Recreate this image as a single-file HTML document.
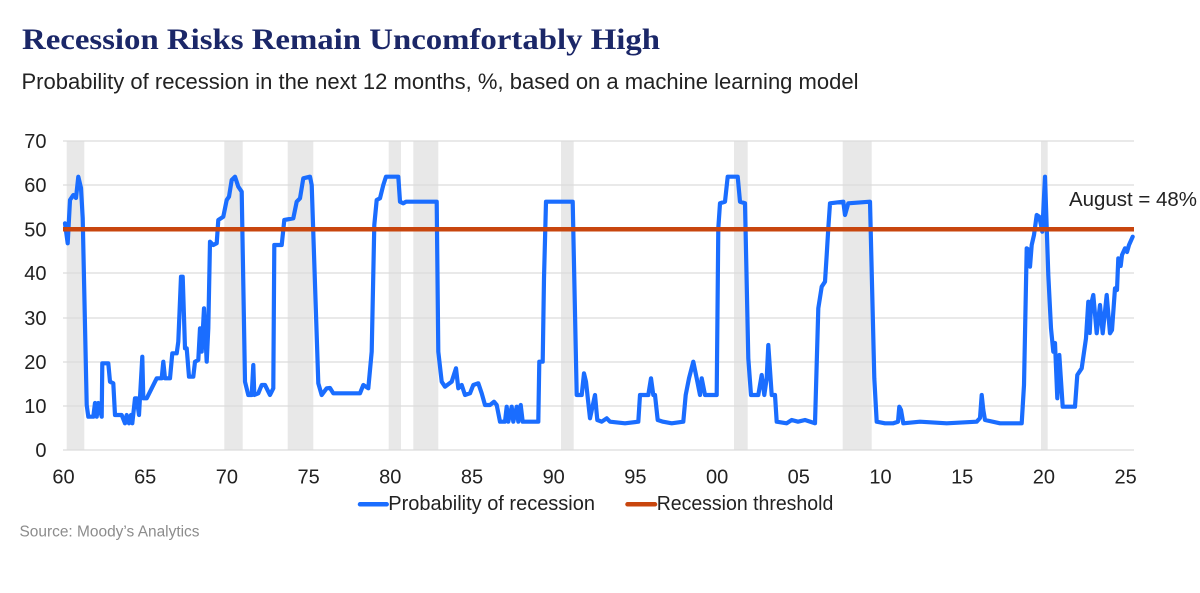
<!DOCTYPE html>
<html>
<head>
<meta charset="utf-8">
<style>
  html,body{margin:0;padding:0;background:#fff;}
  svg{display:block;}
  .sans{font-family:"Liberation Sans",Arial,sans-serif;}
  .serif{font-family:"Liberation Serif","Times New Roman",serif;}
</style>
</head>
<body>
<svg width="1200" height="593" viewBox="0 0 1200 593" xmlns="http://www.w3.org/2000/svg">
  <rect x="0" y="0" width="1200" height="593" fill="#ffffff"/>

  <!-- Title & subtitle -->
  <text class="serif" x="22" y="49" font-size="30" font-weight="bold" fill="#1b2768" textLength="638" lengthAdjust="spacingAndGlyphs">Recession Risks Remain Uncomfortably High</text>
  <text class="sans" x="21.5" y="89" font-size="22" fill="#222222" textLength="837" lengthAdjust="spacingAndGlyphs">Probability of recession in the next 12 months, %, based on a machine learning model</text>

  <!-- Recession bands -->
  <g fill="#e8e8e8">
    <rect x="66.7" y="141" width="17.6" height="309"/>
    <rect x="224.3" y="141" width="18.4" height="309"/>
    <rect x="287.7" y="141" width="25.6" height="309"/>
    <rect x="388.7" y="141" width="12.3" height="309"/>
    <rect x="413.3" y="141" width="25" height="309"/>
    <rect x="561" y="141" width="12.7" height="309"/>
    <rect x="734" y="141" width="13.7" height="309"/>
    <rect x="842.7" y="141" width="29" height="309"/>
    <rect x="1041" y="141" width="6.7" height="309"/>
  </g>

  <!-- Gridlines -->
  <g stroke="#dcdcdc" stroke-width="1.2">
    <line x1="63" y1="141" x2="1134" y2="141"/>
    <line x1="63" y1="185" x2="1134" y2="185"/>
    <line x1="63" y1="229.3" x2="1134" y2="229.3"/>
    <line x1="63" y1="273" x2="1134" y2="273"/>
    <line x1="63" y1="318" x2="1134" y2="318"/>
    <line x1="63" y1="362" x2="1134" y2="362"/>
    <line x1="63" y1="406" x2="1134" y2="406"/>
    <line x1="63" y1="450" x2="1134" y2="450"/>
  </g>

  <!-- Y labels -->
  <g class="sans" font-size="20" fill="#222222" text-anchor="end">
    <text x="46.5" y="148">70</text>
    <text x="46.5" y="192">60</text>
    <text x="46.5" y="236.3">50</text>
    <text x="46.5" y="280">40</text>
    <text x="46.5" y="325">30</text>
    <text x="46.5" y="369">20</text>
    <text x="46.5" y="413">10</text>
    <text x="46.5" y="457">0</text>
  </g>

  <!-- X labels -->
  <g class="sans" font-size="20" fill="#222222" text-anchor="middle">
    <text x="63.5" y="483.5">60</text>
    <text x="145.2" y="483.5">65</text>
    <text x="226.9" y="483.5">70</text>
    <text x="308.6" y="483.5">75</text>
    <text x="390.3" y="483.5">80</text>
    <text x="472" y="483.5">85</text>
    <text x="553.7" y="483.5">90</text>
    <text x="635.4" y="483.5">95</text>
    <text x="717.1" y="483.5">00</text>
    <text x="798.8" y="483.5">05</text>
    <text x="880.5" y="483.5">10</text>
    <text x="962.2" y="483.5">15</text>
    <text x="1043.9" y="483.5">20</text>
    <text x="1125.6" y="483.5">25</text>
  </g>

  <!-- Probability series -->
  <polyline fill="none" stroke="#1a6dff" stroke-width="4.2" stroke-linejoin="round" stroke-linecap="round" points="
65,223.3 67.7,243.3 70,200 73.3,195 76,198 78.3,176.7 81,188 82.7,218 86.7,405 88.3,416.7 93.3,416.7 95,403 96.7,416.7 98.3,403 101.7,416.7 102.3,363.3 108.3,363.3 110,381.7 113.3,383.3 115,415 121.7,415 125,423.3 126.7,415 129,423.3 131,415 132.3,423.3 135,398.3 136.7,398.3 139,415 142.3,356.7 143.3,398.3 146.7,398.3 151.7,388.3 155,381.7 156.7,378.3 161.7,378.3 163.3,361.7 165,378.3 170,378.3 172.3,353.3 176.7,353.3 178.3,341.7 181,276.7 182.7,276.7 185,348.3 186.7,348.3 189,376.7 193.3,376.7 195,361.7 198.3,360 200,328.3 201.7,351.7 204,308.3 206.7,361.7 208.3,328.3 210,241.7 213.3,245 216.7,243.3 218.3,220 223.3,216.7 226.7,200 229,196.7 231.7,180 235,176.7 238.3,186.7 241.7,191.7 245,381.7 248.3,395 251.7,395 253.3,365 254.3,395 258.3,393.3 261.7,385 265,385 270,395 273.3,388.3 274.3,245 281.7,245 284.3,220 293.3,218.3 296.7,201.7 300,198.3 303.3,178.3 310,176.7 311.7,185 318.3,383.3 321.7,395 326.7,388.3 330,388 333.3,393.3
360,393.3 363.3,385 368.3,388.3 371.7,351.7 374.3,225 376.7,200 380,198.3 383.3,185 386,176.7 398.3,176.7 400,201.7 403.3,203.3 406,201.7 436.7,201.7 438.3,351.7 441.7,381.7 445,386.7 451.7,381.7 456,368.3 458.3,388.3 461.7,385 465,395 470,393.3 473.3,385 478.3,383.3 481.7,393.3 485,405 490,405 494,401.7 496.7,405 500,421.7 505,421.7 506.7,406.7 508.3,421.7 511.7,406.7 513.3,421.7 516.7,406.7 518.3,421.7 520.7,405 522.7,421.7 538.3,421.7 539.3,361.7 542.7,361.7 544,278.3 546,201.7 572.7,201.7 576.7,395 581.7,395 584,373.3 586,381.7 590,418.3 595,395 597.3,420 601.7,421.7 606.7,418.3
610,421.7 625,423.3 638.3,421.7 640,395 648.3,395 651,378.3 653.3,395 655,395 657.7,420 663,421.7 671.7,423.3 683.3,421.7 685.7,395 689,378.3 693.3,361.7 696.7,378.3 700,395 701.7,378.3 705,395 716.7,395 718.3,228.3 720,203.3 725,201.7 727.7,176.7 737.7,176.7 740,201.7 745,203.3 748.3,358.3 751,395 758.3,395 761.7,375 764.3,395 766.7,378.3 768.3,345 771.7,395 775,395 776.7,421.7 786.7,423.3 791.7,420 798,421.7 805,420 815,423.3 818.3,308.3 821.7,286.7 825,281.7 826.7,255 828.3,228.3 830,203.3 843.3,201.7 845,215 848.3,203.3 870,201.7 874.3,378.3 876.7,421.7 885,423.3
893.3,423.3 898,421.7 899.3,406.7 901,410 903.3,423.3 920,421.7 946.7,423.3 976.7,421.7 980,418 981.7,395 983.3,410 985,420 1000,423.3 1021.7,423.3 1024,385 1026.7,248.3 1029,250 1030,266.7 1031.7,245 1034,235 1036.7,215 1039.3,216.7 1042.3,231.7 1045,176.7 1048.3,275 1051,328.3 1053.3,351.7 1055,343 1057.3,398.3 1059.3,355 1062.7,406.7 1075,406.7 1077.3,375 1081.7,368.3 1086,338.3 1088.3,301.7 1089.7,333 1091,305 1093.3,295 1096.7,333.3 1100,305 1102.7,333.3 1106.7,295 1110,333.3 1112,330 1115,288.3 1117,290 1118.3,258.3 1120.7,266 1122,255 1125,248.3 1127,252 1129,245 1132.7,236.7"/>

  <!-- Recession threshold -->
  <line x1="63" y1="229.3" x2="1134" y2="229.3" stroke="#c8460e" stroke-width="4.5"/>

  <!-- Annotation -->
  <text class="sans" x="1069" y="206" font-size="20" fill="#222222" textLength="128" lengthAdjust="spacingAndGlyphs">August = 48%</text>

  <!-- Legend -->
  <line x1="360" y1="504.3" x2="386.7" y2="504.3" stroke="#1a6dff" stroke-width="4.5" stroke-linecap="round"/>
  <text class="sans" x="388.3" y="510" font-size="20" fill="#222222" textLength="206.7" lengthAdjust="spacingAndGlyphs">Probability of recession</text>
  <line x1="627.5" y1="504.3" x2="655" y2="504.3" stroke="#c8460e" stroke-width="4.5" stroke-linecap="round"/>
  <text class="sans" x="656.7" y="510" font-size="20" fill="#222222" textLength="176.6" lengthAdjust="spacingAndGlyphs">Recession threshold</text>

  <!-- Source -->
  <text class="sans" x="19.5" y="536.7" font-size="15.5" fill="#8c8c8c" textLength="180" lengthAdjust="spacingAndGlyphs">Source: Moody’s Analytics</text>
</svg>
</body>
</html>
